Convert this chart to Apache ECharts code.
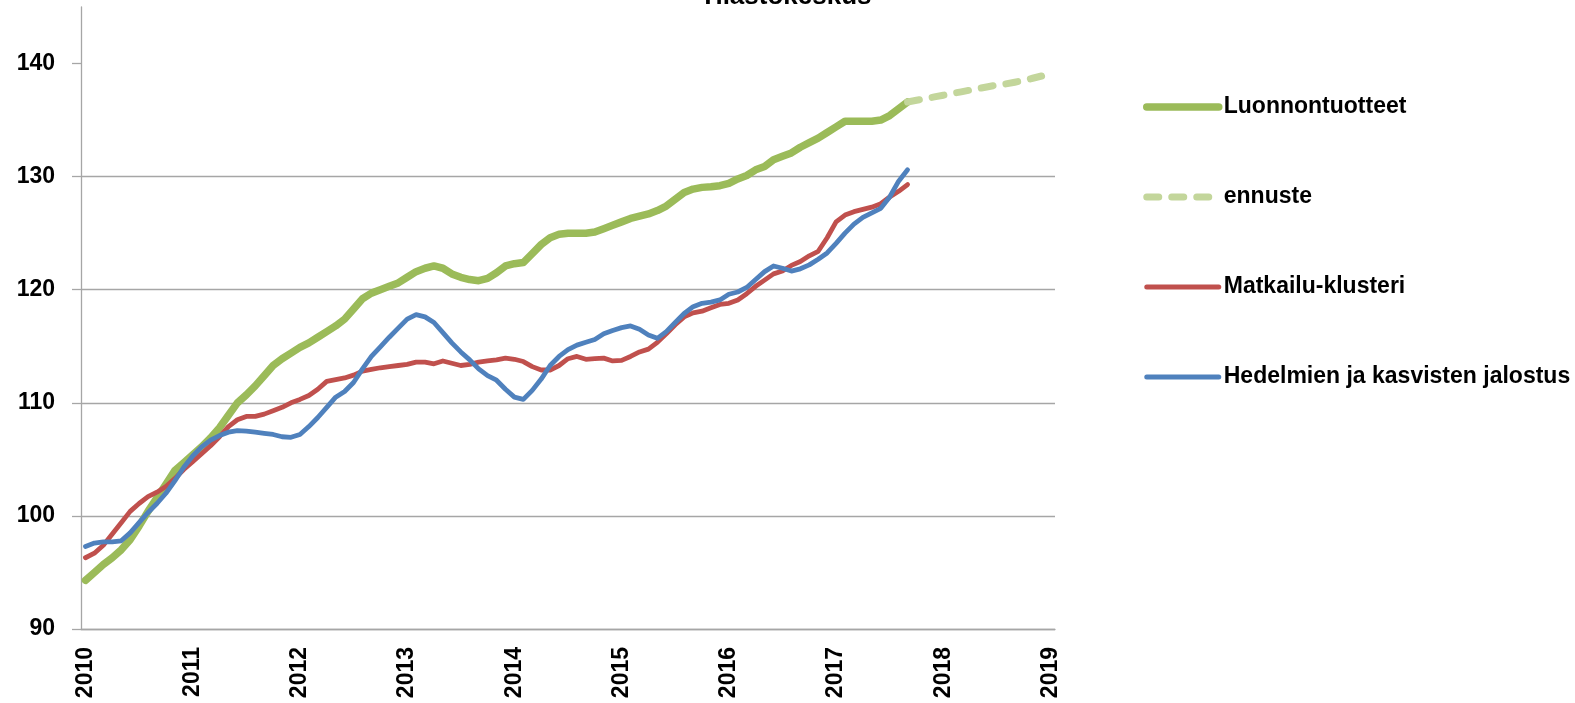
<!DOCTYPE html>
<html>
<head>
<meta charset="utf-8">
<script src="https://cdn.jsdelivr.net/npm/echarts@6/dist/echarts.min.js"></script>
<style>
  html, body { margin: 0; padding: 0; background: #fff; }
  #main { width: 1575px; height: 703px; }
</style>
</head>
<body>
<div id="main"></div>
<script>
var chart = echarts.init(document.getElementById('main'));

// kuukaudet 2010-01 ... 2019-01
var years = [2010, 2011, 2012, 2013, 2014, 2015, 2016, 2017, 2018, 2019];
var months = [];
years.forEach(function (y) {
  for (var m = 1; m <= 12; m++) {
    if (y === 2019 && m > 1) break;
    months.push(y + '-' + (m < 10 ? '0' + m : m));
  }
});

var yTicks = [90, 100, 110, 120, 130, 140];

var luonnontuotteet = [
  94.3, 95.0, 95.7, 96.3, 97.0, 97.9, 99.1, 100.4, 101.6, 102.8, 104.0, 104.7,
  105.4, 106.1, 106.9, 107.8, 108.9, 110.0, 110.7, 111.5, 112.4, 113.3, 113.9, 114.4,
  114.9, 115.3, 115.8, 116.3, 116.8, 117.4, 118.3, 119.2, 119.7, 120.0, 120.3, 120.6,
  121.1, 121.6, 121.9, 122.1, 121.9, 121.4, 121.1, 120.9, 120.8, 121.0, 121.5, 122.1,
  122.3, 122.4, 123.2, 124.0, 124.6, 124.9, 125.0, 125.0, 125.0, 125.1, 125.4, 125.7,
  126.0, 126.3, 126.5, 126.7, 127.0, 127.4, 128.0, 128.6, 128.9, 129.05, 129.1, 129.2,
  129.4, 129.8, 130.1, 130.6, 130.9, 131.5, 131.8, 132.1, 132.6, 133.0, 133.4, 133.9,
  134.4, 134.9, 134.9, 134.9, 134.9, 135.0, 135.4, 136.0, 136.6
];

// ennuste alkaa 2017-09 (indeksi 92)
var ennusteStart = 92;
var ennuste = [
  136.6, 136.75, 136.9, 137.05, 137.2, 137.35, 137.5, 137.65,
  137.8, 137.95, 138.1, 138.2, 138.35, 138.5, 138.7, 138.9
];

var matkailu = [
  96.3, 96.7, 97.4, 98.4, 99.4, 100.4, 101.1, 101.7, 102.1, 102.6, 103.3, 104.1,
  104.8, 105.5, 106.2, 107.0, 107.9, 108.5, 108.8, 108.8, 109.0, 109.3, 109.6, 110.0,
  110.3, 110.65, 111.2, 111.9, 112.05, 112.2, 112.45, 112.8, 112.95, 113.1, 113.2, 113.3,
  113.4, 113.6, 113.6, 113.45, 113.7, 113.5, 113.3, 113.4, 113.6, 113.7, 113.8, 113.95,
  113.85, 113.65, 113.2, 112.9, 112.9, 113.3, 113.9, 114.1, 113.85, 113.9, 113.95, 113.7,
  113.75, 114.1, 114.5, 114.75, 115.35, 116.1, 116.9, 117.6, 117.95, 118.1, 118.4, 118.7,
  118.8, 119.1, 119.65, 120.3, 120.85, 121.4, 121.65, 122.15, 122.5, 123.0, 123.4, 124.6,
  126.0, 126.6, 126.9, 127.1, 127.3, 127.6, 128.2, 128.7, 129.3
];

var hedelmat = [
  97.3, 97.6, 97.7, 97.7, 97.8, 98.5, 99.4, 100.3, 101.1, 102.0, 103.1, 104.3,
  105.3, 106.1, 106.7, 107.1, 107.4, 107.55, 107.5, 107.4, 107.3, 107.2, 107.0, 106.95,
  107.2, 107.9, 108.7, 109.6, 110.5, 111.0, 111.8, 113.0, 114.1, 114.95, 115.8, 116.6,
  117.4, 117.8, 117.6, 117.1, 116.2, 115.3, 114.5, 113.8, 113.0, 112.4, 112.0, 111.2,
  110.5, 110.3, 111.1, 112.1, 113.3, 114.1, 114.7, 115.1, 115.35, 115.6, 116.1, 116.4,
  116.65, 116.8, 116.5, 116.0, 115.7, 116.3, 117.1, 117.9, 118.5, 118.8, 118.9, 119.1,
  119.6, 119.8, 120.2, 120.9, 121.6, 122.1, 121.9, 121.65, 121.85, 122.2, 122.7, 123.25,
  124.1, 125.0, 125.8, 126.4, 126.8, 127.2, 128.2, 129.6, 130.6
];

var ennusteData = [];
for (var i = 0; i < ennusteStart; i++) ennusteData.push(null);
ennusteData = ennusteData.concat(ennuste);

var FONT = 'Liberation Sans, Arial, sans-serif';
var GRID = '#a6a6a6';

var GREEN = '#9bbb59', LIGHT_GREEN = '#c3d69b', RED = '#c0504d', BLUE = '#4f81bd';
var DASH = [12, 13];

var option = {
  animation: false,
  textStyle: { fontFamily: FONT },
  graphic: [
    {
      type: 'text',
      left: 700,
      top: -16,
      style: {
        text: 'Tilastokeskus',
        font: 'bold 26px ' + FONT,
        fill: '#000'
      }
    }
  ],
  grid: {
    left: 81,
    right: 520,
    top: 7,
    bottom: 74
  },
  legend: {
    orient: 'vertical',
    left: 1143,
    top: 95,
    padding: 0,
    itemWidth: 72,
    itemHeight: 10,
    itemGap: 66,
    itemStyle: { opacity: 0 },
    textStyle: {
      color: '#000',
      fontWeight: 'bold',
      fontSize: 23,
      lineHeight: 24,
      fontFamily: FONT
    },
    data: [
      { name: 'Luonnontuotteet', lineStyle: { width: 7.5, cap: 'round' } },
      { name: 'ennuste', lineStyle: { width: 7, type: DASH, cap: 'round' } },
      { name: 'Matkailu-klusteri', lineStyle: { width: 5, cap: 'round' } },
      { name: 'Hedelmien ja kasvisten jalostus', lineStyle: { width: 5, cap: 'round' } }
    ]
  },
  xAxis: {
    type: 'category',
    data: months,
    boundaryGap: true,
    axisLine: { lineStyle: { color: GRID, width: 1.3 } },
    axisTick: {
      length: 9,
      lineStyle: { color: GRID, width: 1.3 },
      interval: function (idx) { return idx % 12 === 0; }
    },
    axisLabel: {
      interval: function (idx) { return idx % 12 === 0; },
      rotate: 90,
      margin: 18,
      color: '#000',
      fontWeight: 'bold',
      fontSize: 23,
      fontFamily: FONT,
      formatter: function (v) { return v.slice(0, 4); }
    },
    splitLine: { show: false }
  },
  yAxis: {
    type: 'value',
    min: 90,
    max: 145,
    interval: 10,
    axisLine: { show: true, lineStyle: { color: GRID, width: 1.3 } },
    axisTick: {
      show: true,
      length: 9,
      customValues: yTicks,
      lineStyle: { color: GRID, width: 1.3 }
    },
    axisLabel: {
      customValues: yTicks,
      margin: 26,
      color: '#000',
      fontWeight: 'bold',
      fontSize: 23,
      fontFamily: FONT
    },
    splitLine: {
      show: true,
      showMaxLine: false,
      lineStyle: { color: GRID, width: 1.3 }
    }
  },
  series: [
    {
      name: 'Luonnontuotteet',
      type: 'line',
      data: luonnontuotteet,
      symbol: 'none',
      lineStyle: { color: GREEN, width: 7.5, cap: 'round', join: 'round' },
      itemStyle: { color: GREEN }
    },
    {
      name: 'ennuste',
      type: 'line',
      data: ennusteData,
      symbol: 'none',
      lineStyle: { color: LIGHT_GREEN, width: 7, type: DASH, cap: 'round', join: 'round' },
      itemStyle: { color: LIGHT_GREEN }
    },
    {
      name: 'Matkailu-klusteri',
      type: 'line',
      data: matkailu,
      symbol: 'none',
      lineStyle: { color: RED, width: 4.8, cap: 'round', join: 'round' },
      itemStyle: { color: RED }
    },
    {
      name: 'Hedelmien ja kasvisten jalostus',
      type: 'line',
      data: hedelmat,
      symbol: 'none',
      lineStyle: { color: BLUE, width: 4.8, cap: 'round', join: 'round' },
      itemStyle: { color: BLUE }
    }
  ]
};

chart.setOption(option);
</script>
</body>
</html>
